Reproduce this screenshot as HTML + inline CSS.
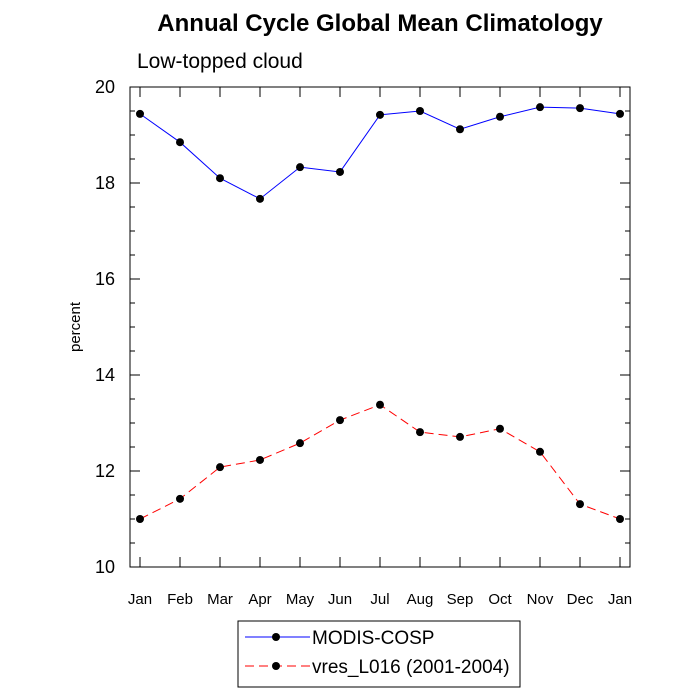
<!DOCTYPE html>
<html><head><meta charset="utf-8"><style>
body{margin:0;background:#fff}
svg{display:block;font-family:"Liberation Sans",sans-serif}
</style></head><body>
<svg id="chart" width="700" height="700">
<text x="380" y="31" text-anchor="middle" font-size="24" font-weight="bold">Annual Cycle Global Mean Climatology</text>
<text x="137" y="68" font-size="21">Low-topped cloud</text>
<text transform="translate(80,327) rotate(-90)" text-anchor="middle" font-size="15">percent</text>
<g id="axes"></g><g id="series"></g>
<g>
<rect x="238" y="621" width="282" height="66" fill="none" stroke="#000" stroke-width="1"/>
<line x1="245" y1="637" x2="310" y2="637" stroke="#00f" stroke-width="1"/>
<circle cx="276" cy="637" r="4" fill="#000"/>
<text x="312" y="644" font-size="19">MODIS-COSP</text>
<line x1="245" y1="666" x2="310" y2="666" stroke="#f00" stroke-width="1" stroke-dasharray="9,5"/>
<circle cx="276" cy="666" r="4" fill="#000"/>
<text x="312" y="673" font-size="19">vres_L016 (2001-2004)</text>
</g>
</svg>
<script>
const months=["Jan","Feb","Mar","Apr","May","Jun","Jul","Aug","Sep","Oct","Nov","Dec","Jan"];
const modis=[19.44,18.85,18.1,17.67,18.33,18.23,19.42,19.5,19.12,19.38,19.58,19.56,19.44];
const vres=[11.0,11.42,12.08,12.23,12.58,13.06,13.38,12.81,12.71,12.88,12.4,11.31,11.0];
const yTicks=[10,12,14,16,18,20];
const NS="http://www.w3.org/2000/svg";
const L=130,R=630,T=87,B=567;
const xs=i=>L+(i+0.25)*40;
const ys=v=>B-(v-10)*48;
function mk(tag,attrs,parent){const e=document.createElementNS(NS,tag);for(const k in attrs)e.setAttribute(k,attrs[k]);parent.appendChild(e);return e;}
const ax=document.getElementById('axes');
const fr=mk('rect',{x:L,y:T,width:R-L,height:B-T,fill:'none',stroke:'#000','stroke-width':1},ax);


for(let v=10;v<=20.001;v+=0.5){
  const y=ys(v);const major=Math.abs(v-Math.round(v/2)*2)<1e-6;const len=major?10:5;
  mk('line',{x1:L,y1:y,x2:L+len,y2:y,stroke:'#000'},ax);
  mk('line',{x1:R,y1:y,x2:R-len,y2:y,stroke:'#000'},ax);
}
yTicks.forEach(v=>{const t=mk('text',{x:L-15,y:ys(v)+6,'text-anchor':'end','font-size':18},ax);t.textContent=v;

});
months.forEach((m,i)=>{const x=xs(i);
  mk('line',{x1:x,y1:B,x2:x,y2:B-10,stroke:'#000'},ax);
  mk('line',{x1:x,y1:T,x2:x,y2:T+10,stroke:'#000'},ax);
  const t=mk('text',{x:x,y:B+37,'text-anchor':'middle','font-size':15},ax);t.textContent=m;
  
  });
const sg=document.getElementById('series');
function draw(data,color,dash,name){
  const pl=mk('polyline',{points:data.map((v,i)=>xs(i)+','+ys(v)).join(' '),fill:'none',stroke:color,'stroke-width':1,'stroke-dasharray':dash},sg);
  
  
  data.forEach((v,i)=>{const c=mk('circle',{cx:xs(i),cy:ys(v),r:4,fill:'#000'},sg);
    
    });
}
draw(modis,'#00f','none','modis');
draw(vres,'#f00','9,5','vres');
</script>
</body></html>
